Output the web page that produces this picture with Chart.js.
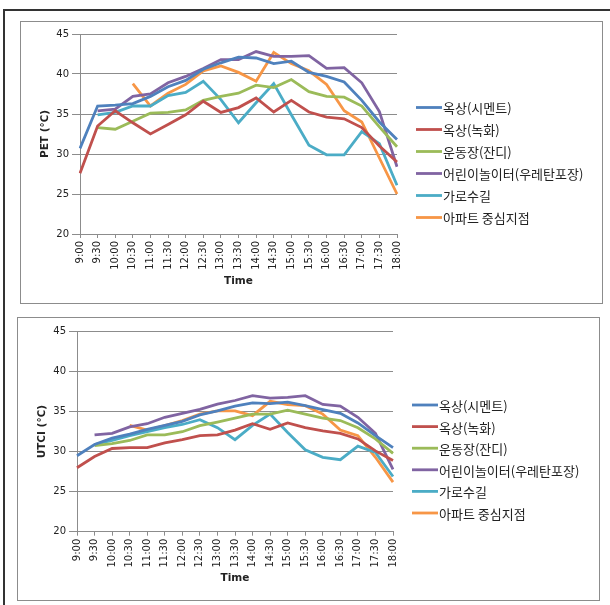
<!DOCTYPE html>
<html><head><meta charset="utf-8">
<script src="https://cdn.jsdelivr.net/npm/chart.js@4.4.1/dist/chart.umd.min.js"></script>
<style>
body{margin:0;background:#fff;width:610px;height:605px;overflow:hidden;position:relative}
.frameTop{position:absolute;left:3px;top:9px;width:607px;height:2px;background:#333}
.frameLeft{position:absolute;left:3px;top:9px;width:2px;height:596px;background:#333}
.box{position:absolute;border:1px solid #8c8c8c;background:#fff}
canvas{display:block}
</style></head><body>
<div class="frameTop"></div><div class="frameLeft"></div>
<div class="box" style="left:20px;top:21px;width:581px;height:281px"><canvas id="c1" width="581" height="281"></canvas></div>
<div class="box" style="left:17px;top:317px;width:581px;height:282px"><canvas id="c2" width="581" height="282"></canvas></div>
<script>
const times = ["9:00","9:30","10:00","10:30","11:00","11:30","12:00","12:30","13:00","13:30","14:00","14:30","15:00","15:30","16:00","16:30","17:00","17:30","18:00"];
const seriesNames = ["옥상(시멘트)","옥상(녹화)","운동장(잔디)","어린이놀이터(우레탄포장)","가로수길","아파트 중심지점"];
const seriesColors = ["#4F81BD","#C0504D","#9BBB59","#8064A2","#4BACC6","#F79646"];
const yTicks = [20,25,30,35,40,45];

// PET (℃)
const petRoofCement   = [30.7,36.0,36.1,36.3,37.2,38.4,39.2,40.6,41.4,42.1,42.0,41.3,41.6,40.2,39.7,39.0,36.7,34.0,31.8];
const petRoofGreen    = [27.6,33.5,35.4,33.9,32.5,33.7,34.9,36.6,35.2,35.8,37.0,35.25,36.7,35.25,34.6,34.4,33.3,31.0,29.0];
const petPlayground   = [null,33.3,33.1,34.1,35.1,35.2,35.5,36.7,37.2,37.6,38.6,38.3,39.3,37.8,37.2,37.1,36.0,33.4,30.9];
const petKidsUrethane = [null,35.4,35.6,37.2,37.5,38.9,39.7,40.7,41.8,41.8,42.8,42.2,42.2,42.3,40.7,40.8,38.9,35.3,28.4];
const petStreet       = [null,34.9,35.2,36.0,36.0,37.3,37.7,39.1,36.8,33.9,36.4,38.8,34.9,31.1,29.9,29.9,32.8,31.3,26.1];
const petApartment    = [null,null,null,38.8,36.0,37.6,38.7,40.4,41.0,40.2,39.1,42.7,41.3,40.4,38.7,35.4,34.0,29.5,25.0];

// UTCI (℃)
const utciRoofCement   = [29.5,30.9,31.7,32.2,32.8,33.3,33.8,34.6,35.1,35.7,36.1,36.0,36.2,35.75,35.25,34.8,33.6,32.0,30.5];
const utciRoofGreen    = [28.0,29.4,30.4,30.5,30.5,31.1,31.5,32.0,32.1,32.7,33.5,32.8,33.6,33.0,32.6,32.3,31.6,30.1,28.9];
const utciPlayground   = [null,30.75,31.0,31.4,32.1,32.1,32.5,33.25,33.7,34.2,34.7,34.7,35.2,34.7,34.2,33.9,33.0,31.6,29.8];
const utciKidsUrethane = [null,32.1,32.3,33.1,33.5,34.3,34.8,35.3,35.95,36.4,37.0,36.7,36.8,37.0,35.9,35.7,34.3,32.3,27.8];
const utciStreet       = [null,30.9,31.4,32.0,32.5,33.0,33.4,34.0,33.0,31.5,33.3,34.7,32.4,30.25,29.3,29.0,30.7,29.9,26.9];
const utciApartment    = [null,null,null,33.3,32.7,33.25,33.9,34.7,35.1,35.1,34.5,36.3,35.9,35.75,34.7,32.7,32.0,29.3,26.2];

const petSeries = [petRoofCement,petRoofGreen,petPlayground,petKidsUrethane,petStreet,petApartment];
const utciSeries = [utciRoofCement,utciRoofGreen,utciPlayground,utciKidsUrethane,utciStreet,utciApartment];

Chart.defaults.font.family = "'DejaVu Sans', sans-serif";
Chart.defaults.color = "#222";
const GRID = "#8c8c8c";

// Legend drawn by a Chart.js plugin from the chart's own datasets (line sample + label)
const lineLegend = {
  id: 'lineLegend',
  afterDraw(chart, args, o) {
    const ctx = chart.ctx;
    const ds = chart.data.datasets;
    const x0 = chart.chartArea.right + o.gap;
    const y0 = chart.height / 2 - (ds.length - 1) * o.spacing / 2;
    ctx.save();
    ctx.font = o.font;
    ctx.textBaseline = 'middle';
    ctx.textAlign = 'left';
    ds.forEach((d, i) => {
      const y = y0 + i * o.spacing;
      ctx.strokeStyle = d.borderColor;
      ctx.lineWidth = d.borderWidth;
      ctx.beginPath(); ctx.moveTo(x0, y); ctx.lineTo(x0 + o.lineLen, y); ctx.stroke();
      ctx.fillStyle = o.color;
      ctx.fillText(d.label, x0 + o.lineLen + 1, y + 1);
    });
    ctx.restore();
  }
};

function build(id, series, yTitle, L) {
  const datasets = series.map((d, i) => ({
    label: seriesNames[i], data: d,
    borderColor: seriesColors[i], backgroundColor: seriesColors[i],
    borderWidth: 2.8, pointRadius: 0, pointHoverRadius: 0, tension: 0, fill: false
  }));
  return new Chart(document.getElementById(id), {
    type: 'line',
    data: { labels: times, datasets },
    plugins: [lineLegend],
    options: {
      responsive: false, animation: false, devicePixelRatio: 1,
      layout: { padding: { top: L.top, left: 0, right: L.right, bottom: 0 } },
      plugins: {
        tooltip: { enabled: false },
        legend: { display: false },
        lineLegend: { gap: 19, spacing: L.spacing, lineLen: 26, color: '#222', font: "13px 'Noto Sans CJK KR', sans-serif" }
      },
      scales: {
        x: {
          grid: { drawOnChartArea: false, drawTicks: true, tickLength: 4, color: GRID },
          border: { color: GRID },
          ticks: { minRotation: 90, maxRotation: 90, autoSkip: false, padding: 3, font: { size: 10 }, color: '#222' },
          title: { display: true, text: 'Time', font: { size: 10.5, weight: 'bold' }, color: '#222', padding: { top: 0, bottom: 15 } },
          afterFit: s => { s.height = L.xH; }
        },
        y: {
          min: yTicks[0], max: yTicks[yTicks.length - 1],
          afterBuildTicks: s => { s.ticks = yTicks.map(v => ({ value: v })); },
          grid: { color: GRID, tickLength: 8 },
          border: { color: GRID },
          ticks: { padding: 3, font: { size: 10 }, color: '#222' },
          title: { display: true, text: yTitle, font: { size: 10.5, weight: 'bold' }, color: '#222', padding: { top: 17.5, bottom: 0 } },
          afterFit: s => { s.width = 59; }
        }
      }
    }
  });
}

build('c1', petSeries, 'PET (℃)', { top: 12, right: 205, xH: 69, spacing: 22 });
build('c2', utciSeries, 'UTCI (℃)', { top: 13.7, right: 206, xH: 68.3, spacing: 21.6 });
</script>
</body></html>
